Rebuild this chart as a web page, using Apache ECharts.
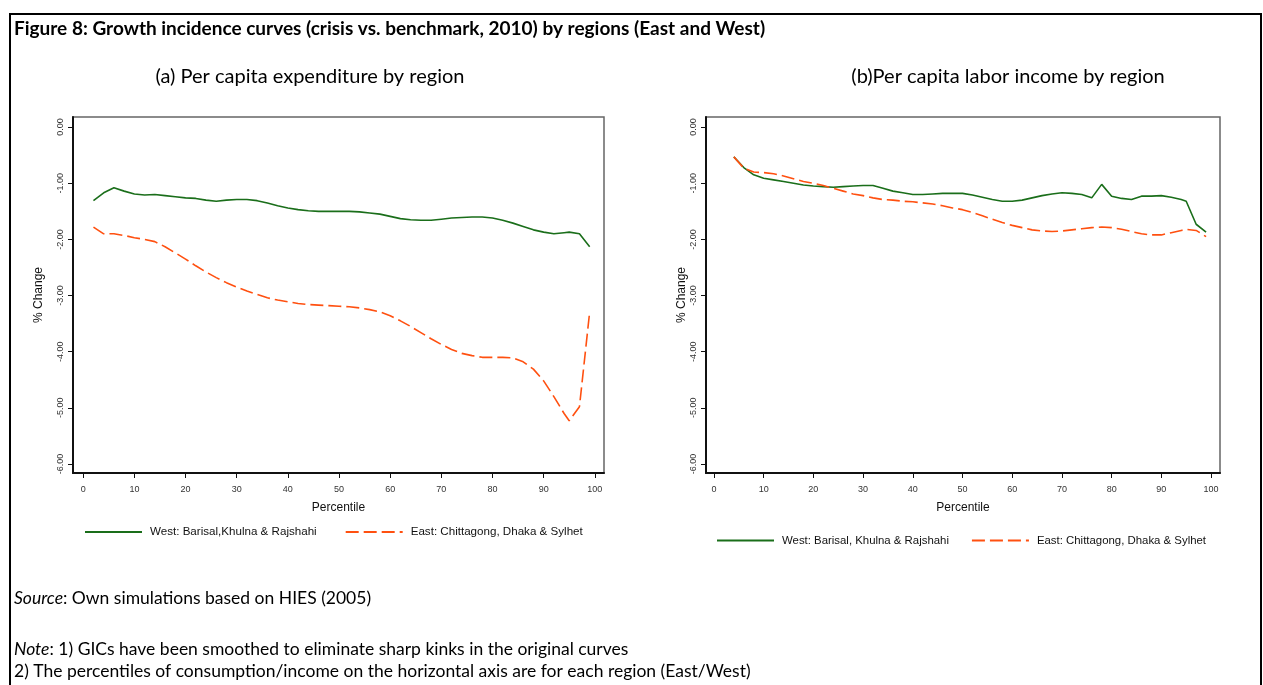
<!DOCTYPE html>
<html><head><meta charset="utf-8">
<script src="https://cdn.jsdelivr.net/npm/echarts@6/dist/echarts.min.js"></script>
<style>html,body{margin:0;padding:0;background:#fff}#c{width:1263px;height:685px}</style>
</head><body><div id="c"></div>
<script>
const percentilesA = [2,4,6,8,10,12,14,16,18,20,22,24,26,28,30,32,34,36,38,40,42,44,46,48,50,52,54,56,58,60,62,64,66,68,70,72,74,76,78,80,82,84,86,88,90,92,94,95,97,99];
const westA = [-1.31,-1.17,-1.08,-1.14,-1.19,-1.21,-1.20,-1.22,-1.24,-1.26,-1.27,-1.30,-1.32,-1.30,-1.29,-1.29,-1.31,-1.35,-1.40,-1.44,-1.47,-1.49,-1.50,-1.50,-1.50,-1.50,-1.51,-1.53,-1.55,-1.59,-1.63,-1.65,-1.66,-1.66,-1.64,-1.62,-1.61,-1.60,-1.60,-1.62,-1.66,-1.71,-1.77,-1.83,-1.87,-1.90,-1.88,-1.87,-1.90,-2.13];
const eastA = [-1.78,-1.90,-1.90,-1.93,-1.97,-2.00,-2.04,-2.13,-2.24,-2.35,-2.47,-2.58,-2.68,-2.77,-2.85,-2.92,-2.98,-3.04,-3.08,-3.11,-3.14,-3.16,-3.17,-3.18,-3.19,-3.20,-3.22,-3.25,-3.29,-3.36,-3.45,-3.55,-3.66,-3.77,-3.87,-3.96,-4.03,-4.07,-4.10,-4.10,-4.10,-4.11,-4.18,-4.31,-4.52,-4.80,-5.10,-5.23,-4.98,-3.29];
const percentilesB = [4,6,8,10,12,14,16,18,20,22,24,26,28,30,32,34,36,38,40,42,44,46,48,50,52,54,56,58,60,62,64,66,68,70,72,74,76,78,80,82,84,86,88,90,92,94,95,97,99];
const westB = [-0.53,-0.72,-0.85,-0.91,-0.94,-0.97,-1.00,-1.03,-1.05,-1.06,-1.07,-1.06,-1.05,-1.04,-1.04,-1.09,-1.14,-1.17,-1.20,-1.20,-1.19,-1.18,-1.18,-1.18,-1.21,-1.25,-1.29,-1.32,-1.32,-1.30,-1.26,-1.22,-1.19,-1.17,-1.18,-1.20,-1.26,-1.02,-1.23,-1.27,-1.29,-1.23,-1.23,-1.22,-1.25,-1.29,-1.32,-1.73,-1.87];
const eastB = [-0.53,-0.73,-0.80,-0.81,-0.83,-0.87,-0.92,-0.97,-1.00,-1.04,-1.09,-1.14,-1.19,-1.22,-1.26,-1.29,-1.30,-1.32,-1.33,-1.35,-1.37,-1.40,-1.44,-1.47,-1.52,-1.58,-1.64,-1.70,-1.75,-1.79,-1.83,-1.85,-1.86,-1.85,-1.83,-1.81,-1.79,-1.78,-1.79,-1.82,-1.86,-1.90,-1.92,-1.92,-1.88,-1.84,-1.82,-1.84,-1.95];
const xTicks = [0,10,20,30,40,50,60,70,80,90,100];
const yTicks = [0,-1,-2,-3,-4,-5,-6];
const westNameA = 'West: Barisal,Khulna & Rajshahi';
const eastNameA = 'East: Chittagong, Dhaka & Sylhet';
const westNameB = 'West: Barisal, Khulna & Rajshahi';
const eastNameB = 'East: Chittagong, Dhaka & Sylhet ';

const GREEN = '#1a6e1a', ORANGE = '#ff5010';
const F = 'Liberation Sans, Arial, sans-serif';
const T = 'Lato, sans-serif';
const zip = (xs, ys) => xs.map((x, i) => [x, ys[i]]);

function xAxis(gi, min) {
  return {
    type: 'value', gridIndex: gi, min: min, max: 101.8,
    name: 'Percentile', nameLocation: 'middle', nameGap: 29,
    nameTextStyle: {fontFamily: F, fontSize: 12, color: '#111'},
    axisLine: {show: true, onZero: false, lineStyle: {color: '#111', width: 2}},
    axisTick: {show: true, length: 5, customValues: xTicks, lineStyle: {color: '#111', width: 1}},
    axisLabel: {customValues: xTicks, fontFamily: F, fontSize: 9, color: '#333', margin: 12},
    splitLine: {show: false}
  };
}
function yAxis(gi, gap) {
  return {
    type: 'value', gridIndex: gi, min: -6.16, max: 0.18,
    name: '% Change', nameLocation: 'middle', nameGap: gap, nameRotate: 90,
    nameTextStyle: {fontFamily: F, fontSize: 12, color: '#111'},
    axisLine: {show: true, onZero: false, lineStyle: {color: '#111', width: 2}},
    axisTick: {show: true, length: 5, customValues: yTicks, lineStyle: {color: '#111', width: 1}},
    axisLabel: {customValues: yTicks, rotate: 90, fontFamily: F, fontSize: 9, color: '#333', margin: 8,
      formatter: v => v.toFixed(2)},
    splitLine: {show: false}
  };
}
function line(name, gi, data, color, dashed) {
  return {
    type: 'line', name: name, xAxisIndex: gi, yAxisIndex: gi, data: data,
    symbol: 'none', smooth: false, animation: false,
    lineStyle: {color: color, width: 1.6, type: dashed ? [13, 5] : 'solid'},
    itemStyle: {color: color}
  };
}
function legend(left, top, gap, size, names) {
  return {left: left, top: top, padding: 0, itemWidth: 57, itemHeight: 14, itemGap: gap,
    itemStyle: {opacity: 0, borderWidth: 0},
    data: names, textStyle: {fontFamily: F, fontSize: size, color: '#111', padding: [0, 0, 0, 3]}};
}
const titleText = (t, l, top, size, align) => ({text: t, left: l, top: top, padding: 0, textAlign: align,
  textStyle: {fontFamily: T, fontWeight: 'normal', fontSize: size, color: '#000',
    rich: {i: {fontStyle: 'italic', fontFamily: T, fontSize: size, color: '#000'}}}});

const chart = echarts.init(document.getElementById('c'), null, {renderer: 'canvas'});
chart.setOption({
  animation: false,
  backgroundColor: '#fff',
  title: [
    {text: 'Figure 8: Growth incidence curves (crisis vs. benchmark, 2010) by regions (East and West)',
     left: 14, top: 19, padding: 0, textStyle: {fontFamily: T, fontWeight: 'bold', fontSize: 19, color: '#000'}},
    titleText('(a) Per capita expenditure by region', 310, 67, 20, 'center'),
    titleText('(b)Per capita labor income by region', 1008, 67, 20, 'center'),
    titleText('{i|Source}: Own simulations based on HIES (2005)', 14, 589, 17.5, 'left'),
    titleText('{i|Note}: 1) GICs have been smoothed to eliminate sharp kinks in the original curves', 14, 640, 17.5, 'left'),
    titleText('2) The percentiles of consumption/income on the horizontal axis are for each region (East/West)', 14, 662, 17.5, 'left')
  ],
  graphic: [
    {type: 'rect', shape: {x: 10, y: 14, width: 1251, height: 700}, style: {fill: 'none', stroke: '#000', lineWidth: 2}, silent: true}
  ],
  grid: [
    {left: 73, top: 117, width: 531, height: 356, show: true, borderColor: '#666', borderWidth: 1.5, backgroundColor: 'transparent'},
    {left: 706, top: 117, width: 514, height: 356, show: true, borderColor: '#666', borderWidth: 1.5, backgroundColor: 'transparent'}
  ],
  xAxis: [xAxis(0, -2), xAxis(1, -1.6)],
  yAxis: [yAxis(0, 28), yAxis(1, 15)],
  legend: [
    legend(84, 526, 28, 11.6, [westNameA, eastNameA]),
    legend(716, 535, 22, 11.4, [westNameB, eastNameB])
  ],
  series: [
    line(westNameA, 0, zip(percentilesA, westA), GREEN, false),
    line(eastNameA, 0, zip(percentilesA, eastA), ORANGE, true),
    line(westNameB, 1, zip(percentilesB, westB), GREEN, false),
    line(eastNameB, 1, zip(percentilesB, eastB), ORANGE, true)
  ]
});
</script></body></html>
